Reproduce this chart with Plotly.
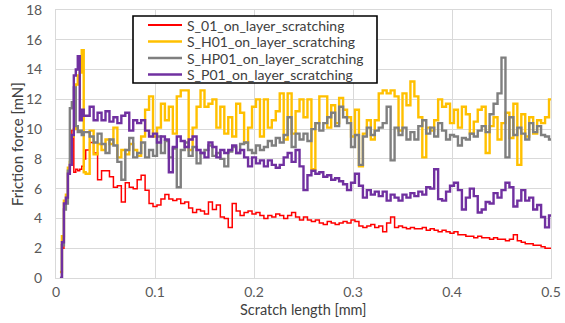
import plotly.graph_objects as go

# x positions: fine ramp at the start, then a regular grid
ramp_x = [0.004, 0.006, 0.008, 0.010, 0.012, 0.014, 0.016, 0.018, 0.020, 0.022, 0.024, 0.026, 0.028]
grid_start = 0.030
grid_step = 0.004
grid_count = 119
scratch_length = ramp_x + [round(grid_start + grid_step * k, 4) for k in range(grid_count)]

s01 = [0.0, 2.0, 4.8, 5.3, 7.4, 9.5, 9.9, 7.1, 7.3, 7.2, 7.3, 7.5, 8.0,
       8.6, 9.1, 8.4, 6.6, 7.2,
       7.2, 6.8, 6.1, 6.2, 5.1,
       6.4, 6.1, 6.0, 6.6, 6.9,
       5.9, 5.0, 4.8, 4.9, 5.3,
       5.6, 5.3, 5.2, 5.3, 5.0,
       5.1, 4.7, 4.4, 4.6, 4.5,
       4.3, 5.1, 4.6, 4.9, 4.1,
       4.0, 3.4, 5.0, 4.5, 4.2,
       4.4, 4.5, 4.3, 4.4, 4.2,
       4.0, 4.2, 4.1, 4.3, 4.2,
       4.0, 4.2, 4.4, 4.1, 3.9,
       4.1, 3.9, 3.8, 3.9, 3.7,
       3.6, 3.8, 3.7, 3.6, 3.7,
       3.8, 3.7, 3.9, 3.8, 3.5,
       3.4, 3.5, 3.6, 3.4, 3.5,
       3.1, 3.7, 4.1, 3.4, 3.5,
       3.4, 3.3, 3.4, 3.3, 3.3,
       3.4, 3.2, 3.3, 3.2, 3.1,
       3.2, 3.1, 3.0, 3.1, 2.9,
       2.9, 2.8, 2.8, 2.7, 2.8,
       2.7, 2.7, 2.6, 2.7, 2.6,
       2.6, 2.5, 2.6, 2.9, 2.5,
       2.4, 2.3, 2.3, 2.2, 2.2,
       2.1, 2.0, 2.0, 2.0]

s_h01 = [0.4, 2.8, 5.2, 5.6, 7.4, 7.8, 9.5, 10.0, 13.0, 13.6, 13.8, 15.3, 7.1,
         7.0, 9.9, 8.3, 9.0, 8.6,
         9.3, 9.0, 10.1, 8.1, 8.6,
         8.3, 9.0, 8.6, 8.2, 9.5,
         11.3, 12.2, 9.5, 10.1, 11.7,
         10.6, 11.5, 9.7, 12.2, 12.6,
         12.6, 8.6, 10.1, 11.5, 12.6,
         11.5, 11.7, 12.0, 10.1, 11.5,
         9.7, 10.8, 9.5, 11.7, 11.1,
         9.1, 10.1, 11.5, 12.0, 9.5,
         12.0, 10.1, 10.6, 11.2, 12.4,
         9.3, 12.4, 9.7, 11.2, 12.0,
         10.8, 12.0, 7.3, 10.4, 12.2,
         12.2, 10.1, 11.6, 10.4, 12.1,
         11.3, 10.8, 9.5, 11.3, 7.5,
         9.7, 10.6, 9.3, 10.6, 12.4,
         12.6, 12.4, 12.6, 12.2, 9.9,
         12.4, 11.6, 13.2, 12.2, 10.8,
         8.1, 10.1, 9.9, 10.6, 12.0,
         11.5, 11.7, 10.4, 11.3, 10.1,
         11.5, 11.0, 9.7, 10.5, 11.3,
         11.5, 8.4, 10.2, 10.8, 9.3,
         10.4, 11.1, 9.4, 11.7, 7.6,
         11.0, 9.5, 10.8, 9.7, 10.6,
         10.4, 10.8, 12.0, 8.4]

s_hp01 = [0.0, 2.2, 4.6, 5.0, 7.2, 11.4, 11.8, 12.8, 10.2, 9.8, 9.9, 9.6, 9.8,
          9.8, 9.5, 9.1, 9.7, 9.0,
          8.4, 9.3, 8.9, 7.8, 6.6,
          8.6, 9.4, 8.1, 8.4, 9.1,
          8.1, 8.6, 8.2, 9.5, 8.4,
          9.2, 8.1, 8.7, 6.1, 8.6,
          9.1, 8.2, 8.8, 7.7, 8.4,
          8.6, 8.9, 8.2, 8.4, 8.0,
          7.5, 8.5, 8.8, 8.4, 9.0,
          9.1, 8.6, 8.4, 8.9, 8.6,
          8.8, 9.2, 8.9, 9.4, 9.1,
          9.6, 10.8, 8.8, 9.7, 9.3,
          9.7, 9.2, 10.0, 10.4, 9.9,
          10.4, 10.8, 11.1, 10.2, 11.5,
          10.8, 10.4, 8.8, 9.6, 7.6,
          9.5, 10.1, 9.6, 9.9, 10.1,
          10.4, 11.5, 7.9, 10.1, 9.6,
          10.1, 9.3, 9.8, 9.3, 10.2,
          10.6, 9.7, 10.1, 9.5, 10.4,
          9.9, 9.3, 9.6, 9.5, 8.9,
          9.4, 9.3, 9.7, 9.5, 9.9,
          10.2, 9.8, 11.0, 11.7, 12.4,
          14.8, 8.1, 10.8, 9.6, 10.1,
          9.7, 9.3, 10.4, 9.8, 10.2,
          9.6, 9.5, 9.3, 9.3]

s_p01 = [0.0, 2.4, 5.0, 5.4, 7.0, 7.6, 9.6, 13.6, 14.0, 14.9, 10.6, 11.3, 10.9,
         10.9, 11.5, 10.6, 11.1, 10.6,
         11.2, 10.5, 10.8, 10.4, 10.9,
         11.1, 9.9, 10.6, 10.4, 10.6,
         9.9, 9.5, 9.7, 9.1, 9.5,
         9.3, 7.1, 8.8, 9.5, 9.2,
         8.8, 9.3, 9.5, 8.6, 8.4,
         8.1, 9.1, 8.8, 8.1, 8.6,
         8.4, 8.6, 8.9, 8.4, 8.6,
         8.1, 7.5, 8.1, 7.7, 7.9,
         7.5, 7.9, 7.6, 7.4, 7.6,
         8.1, 8.4, 7.8, 8.6, 7.5,
         5.9, 6.9, 7.2, 7.0, 7.1,
         6.8, 6.9, 6.6, 6.7, 6.5,
         6.3, 5.9, 6.4, 7.0, 6.2,
         5.4, 5.9, 5.6, 5.8, 5.5,
         5.8, 5.2, 5.6, 5.4, 5.2,
         5.6, 5.4, 5.7, 5.5, 5.8,
         5.6, 6.1, 6.0, 7.3, 5.3,
         5.2, 5.8, 6.2, 6.4, 5.9,
         4.6, 5.4, 6.0, 5.5, 4.4,
         4.6, 5.1, 5.0, 5.7, 5.4,
         5.9, 6.4, 6.1, 4.8, 5.2,
         5.9, 5.2, 5.4, 4.6, 4.9,
         4.1, 3.4, 4.2, 4.2]

series_names = ["S_01_on_layer_scratching", "S_H01_on_layer_scratching",
                "S_HP01_on_layer_scratching", "S_P01_on_layer_scratching"]
series_values = [s01, s_h01, s_hp01, s_p01]
series_colors = ["#FF0000", "#FFC000", "#7F7F7F", "#7030A0"]
series_widths = [1.5, 2.4, 2.4, 2.4]

y_ticks = [0, 2, 4, 6, 8, 10, 12, 14, 16, 18]
x_ticks = [0, 0.1, 0.2, 0.3, 0.4, 0.5]
x_tick_labels = ["0", "0.1", "0.2", "0.3", "0.4", "0.5"]

W, H = 565, 323
PLOT_L, PLOT_R, PLOT_T, PLOT_B = 56, 551, 10, 278   # in window pixels
ML, MR, MT, MB = PLOT_L, W - PLOT_R, PLOT_T, H - PLOT_B
PW, PH = PLOT_R - PLOT_L, PLOT_B - PLOT_T


def px_x(p):
    return (p - PLOT_L) / PW


def px_y(p):
    return (PLOT_B - p) / PH


font_family = "Lato, Carlito, Calibri, sans-serif"

fig = go.Figure()
for name, vals, col, w in zip(series_names, series_values, series_colors, series_widths):
    fig.add_trace(go.Scatter(x=scratch_length, y=vals, name=name, mode="lines",
                             showlegend=False,
                             line=dict(color=col, width=w, shape="hv")))

shapes = []
annotations = []
# legend box
shapes.append(dict(type="rect", xref="paper", yref="paper",
                   x0=px_x(133), x1=px_x(377), y0=px_y(83), y1=px_y(16),
                   line=dict(color="black", width=1.6), fillcolor="white", layer="above"))
row_y = [25, 41.5, 58, 74.5]
for name, col, w, ry in zip(series_names, series_colors, series_widths, row_y):
    shapes.append(dict(type="line", xref="paper", yref="paper",
                       x0=px_x(148), x1=px_x(182), y0=px_y(ry), y1=px_y(ry),
                       line=dict(color=col, width=w + 0.3), layer="above"))
    annotations.append(dict(text=name, xref="paper", yref="paper",
                            x=px_x(185), y=px_y(ry), xanchor="left", yanchor="middle",
                            showarrow=False, height=16, valign="middle",
                            font=dict(family=font_family, size=14, color="#404040")))
# axis titles
annotations.append(dict(text="Friction force [mN]", xref="paper", yref="paper",
                        x=px_x(17), y=px_y(144), xanchor="center", yanchor="middle",
                        textangle=-90, showarrow=False,
                        font=dict(family=font_family, size=15, color="#404040")))
annotations.append(dict(text="Scratch length [mm]", xref="paper", yref="paper",
                        x=px_x(303), y=px_y(309), xanchor="center", yanchor="middle",
                        showarrow=False, borderpad=0,
                        font=dict(family=font_family, size=14.5, color="#404040")))

fig.update_layout(
    width=W, height=H,
    margin=dict(l=ML, r=MR, t=MT, b=MB, autoexpand=False),
    paper_bgcolor="white", plot_bgcolor="white",
    font=dict(family=font_family, size=14, color="#595959"),
    showlegend=False,
    shapes=shapes, annotations=annotations,
)
fig.update_xaxes(range=[0, 0.5], tickvals=x_ticks, ticktext=x_tick_labels,
                 showgrid=True, gridcolor="#D9D9D9", gridwidth=1,
                 zeroline=False, ticks="", ticklabelstandoff=1, automargin=False,
                 showline=True, linecolor="#D9D9D9", mirror=True)
fig.update_yaxes(range=[0, 18], tickvals=y_ticks,
                 showgrid=True, gridcolor="#D9D9D9", gridwidth=1,
                 zeroline=False, ticks="", ticklabelstandoff=10, automargin=False,
                 showline=True, linecolor="#D9D9D9", mirror=True)

fig.write_html("out.html", config={"displayModeBar": False},
               post_script="document.body.style.margin='0';document.body.style.overflow='hidden';")
